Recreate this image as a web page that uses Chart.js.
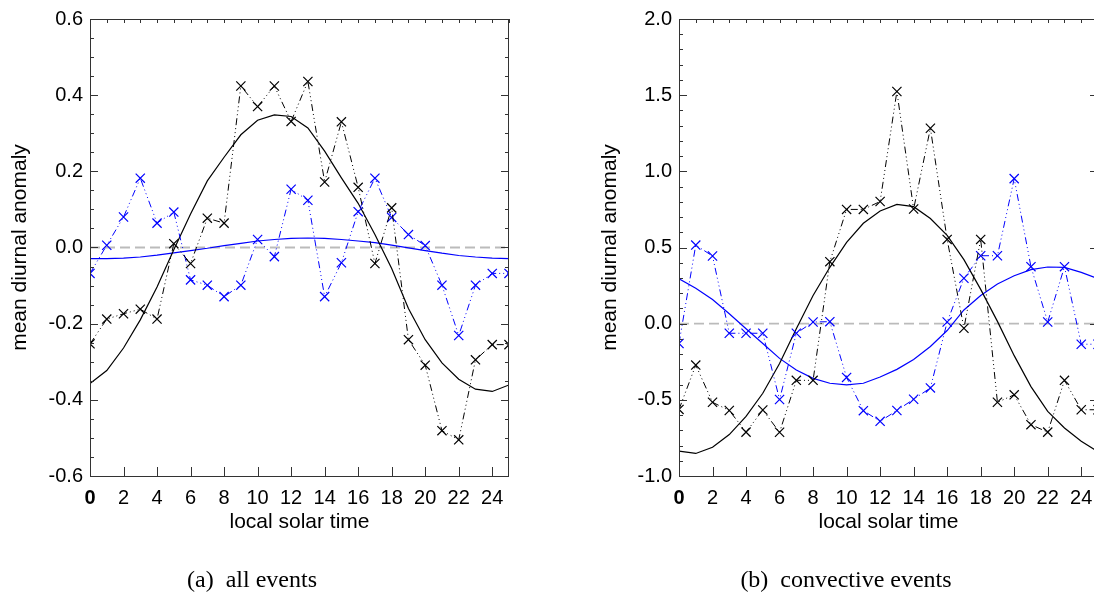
<!DOCTYPE html>
<html>
<head>
<meta charset="utf-8">
<script src="https://cdn.jsdelivr.net/npm/chart.js@4"></script>
<style>
  html, body { margin: 0; padding: 0; background: #fff; overflow: hidden; }
  body { width: 1094px; height: 597px; position: relative; }
  canvas { position: absolute; top: 0; }
  #allChart { left: 0; }
  #convChart { left: 590px; }
</style>
</head>
<body>
<canvas id="allChart" width="547" height="597"></canvas>
<canvas id="convChart" width="560" height="597"></canvas>
<script>
// local solar time (hours)
const hours = [0, 1, 2, 3, 4, 5, 6, 7, 8, 9, 10, 11, 12, 13, 14, 15, 16, 17, 18, 19, 20, 21, 22, 23, 24, 25];
const xTicks = [0, 2, 4, 6, 8, 10, 12, 14, 16, 18, 20, 22, 24];

// (a) all events
const allBlack = [-0.253, -0.188, -0.174, -0.162, -0.188, 0.010, -0.042, 0.077, 0.064, 0.424, 0.370, 0.424, 0.331,
                  0.436, 0.172, 0.330, 0.158, -0.042, 0.104, -0.242, -0.309, -0.481, -0.505, -0.295, -0.255, -0.255];
const allBlue = [-0.068, 0.006, 0.080, 0.182, 0.064, 0.093, -0.085, -0.099, -0.129, -0.099, 0.021, -0.024, 0.153,
                 0.124, -0.129, -0.040, 0.094, 0.182, 0.079, 0.034, 0.005, -0.099, -0.231, -0.099, -0.068, -0.068];
const allBlackFit = [-0.357, -0.323, -0.264, -0.190, -0.104, -0.006, 0.088, 0.175, 0.237, 0.296, 0.334, 0.348, 0.344,
                     0.314, 0.253, 0.183, 0.116, 0.034, -0.055, -0.160, -0.242, -0.303, -0.346, -0.372, -0.378, -0.361];
const allBlueFit = [-0.029, -0.029, -0.028, -0.025, -0.020, -0.014, -0.008, -0.002, 0.005, 0.011, 0.017, 0.021, 0.024,
                    0.025, 0.024, 0.021, 0.017, 0.013, 0.006, -0.001, -0.008, -0.015, -0.021, -0.025, -0.028, -0.029];

// (b) convective events
const convBlack = [-0.563, -0.272, -0.516, -0.570, -0.712, -0.567, -0.713, -0.372, -0.372, 0.407, 0.750, 0.750, 0.802,
                   1.524, 0.753, 1.283, 0.553, -0.030, 0.553, -0.516, -0.467, -0.663, -0.712, -0.372, -0.565, -0.565];
const convBlue = [-0.130, 0.516, 0.444, -0.063, -0.063, -0.063, -0.498, -0.063, 0.011, 0.013, -0.353, -0.571, -0.641,
                  -0.570, -0.496, -0.422, 0.011, 0.298, 0.446, 0.446, 0.952, 0.374, 0.011, 0.374, -0.135, -0.135];
const convBlackFit = [-0.837, -0.852, -0.811, -0.728, -0.609, -0.457, -0.261, -0.033, 0.185, 0.370, 0.533, 0.659, 0.740,
                      0.783, 0.768, 0.690, 0.580, 0.420, 0.225, 0.015, -0.210, -0.413, -0.576, -0.685, -0.772, -0.840];
const convBlueFit = [0.294, 0.233, 0.159, 0.065, -0.033, -0.130, -0.228, -0.304, -0.359, -0.391, -0.402, -0.391, -0.350,
                     -0.300, -0.235, -0.150, -0.045, 0.090, 0.185, 0.261, 0.315, 0.355, 0.372, 0.370, 0.337, 0.296];

const BLUE = '#0000ff';
const dashDotDotDot = [7, 3, 1, 3, 1, 3, 1, 3];

// turn a list of values into {x, y} points on the hour axis
const pts = (vals) => vals.map((v, i) => ({ x: hours[i], y: v }));

// box around the plot with inward ticks on all four sides + sub-figure caption
const framePlugin = {
  id: 'frame',
  afterDraw(chart, args, o) {
    const { ctx, chartArea: a, scales: { x, y } } = chart;
    ctx.save();
    ctx.strokeStyle = '#333';
    ctx.lineWidth = 1;
    ctx.strokeRect(a.left + 0.5, a.top + 0.5, a.right - a.left - 1, a.bottom - a.top);
    ctx.beginPath();
    const nY = Math.round((y.max - y.min) / o.yMinor);
    for (let i = 0; i <= nY; i++) {
      const v = y.min + i * o.yMinor;
      const py = Math.round(y.getPixelForValue(v)) + 0.5;
      const len = (i % o.yPerMajor === 0) ? 8 : 4;
      ctx.moveTo(a.left, py); ctx.lineTo(a.left + len, py);
      ctx.moveTo(a.right, py); ctx.lineTo(a.right - len, py);
    }
    for (let v = x.min; v <= x.max; v += 1) {
      const px = Math.round(x.getPixelForValue(v)) + 0.5;
      if (v % 2 === 0) { ctx.moveTo(px, a.bottom); ctx.lineTo(px, a.bottom - 9); }
      ctx.moveTo(px, a.top); ctx.lineTo(px, a.top + 4);
    }
    ctx.stroke();
    ctx.fillStyle = '#000';
    ctx.font = '24px "Liberation Serif", "Times New Roman", serif';
    ctx.textAlign = 'center';
    ctx.textBaseline = 'middle';
    ctx.fillText(o.caption, o.captionX, 581);
    ctx.restore();
  }
};

function makeChart(id, black, blue, blackFit, blueFit, yMin, yMax, yStep, yMinor, caption, captionX, yWidth, padRight) {
  const ctx = document.getElementById(id).getContext('2d');
  return new Chart(ctx, {
    type: 'line',
    data: {
      datasets: [
        { data: pts(black), borderColor: '#000', borderWidth: 1, borderDash: dashDotDotDot,
          pointStyle: 'crossRot', pointRadius: 6.5, pointBorderWidth: 1.2, pointBorderColor: '#000', tension: 0 },
        { data: pts(blue), borderColor: BLUE, borderWidth: 1, borderDash: dashDotDotDot,
          pointStyle: 'crossRot', pointRadius: 6.5, pointBorderWidth: 1.2, pointBorderColor: BLUE, tension: 0 },
        { data: pts(blackFit), borderColor: '#000', borderWidth: 1.2, pointRadius: 0, tension: 0 },
        { data: pts(blueFit), borderColor: BLUE, borderWidth: 1.2, pointRadius: 0, tension: 0 },
        // zero reference line
        { data: [{ x: 0, y: 0 }, { x: 25, y: 0 }], borderColor: '#bbbbbb', borderWidth: 1.8,
          borderDash: [10, 5], pointRadius: 0 }
      ]
    },
    options: {
      responsive: false,
      devicePixelRatio: 1,
      animation: false,
      events: [],
      layout: { padding: { left: 0, right: padRight, top: 15, bottom: 60 } },
      plugins: {
        legend: { display: false },
        tooltip: { enabled: false },
        frame: { yMinor: yMinor, yPerMajor: Math.round(yStep / yMinor), caption: caption, captionX: captionX }
      },
      scales: {
        x: {
          type: 'linear', min: 0, max: 25,
          afterBuildTicks: (s) => { s.ticks = xTicks.map(v => ({ value: v })); },
          afterFit: (s) => { s.height = 61; },
          grid: { display: false, drawTicks: false },
          border: { display: false },
          ticks: {
            padding: 10, color: '#000', maxRotation: 0, autoSkip: false,
            font: (c) => ({ family: '"Liberation Sans", Arial, sans-serif', size: 20,
                            weight: c.tick && c.tick.value === 0 ? 'bold' : 'normal' }),
            callback: (v) => String(v)
          },
          title: { display: true, text: 'local solar time', color: '#000',
                   font: { family: '"Liberation Sans", Arial, sans-serif', size: 21 }, padding: { top: 0, bottom: 2 } }
        },
        y: {
          min: yMin, max: yMax,
          afterFit: (s) => { s.width = yWidth; },
          grid: { display: false, drawTicks: false },
          border: { display: false },
          ticks: { stepSize: yStep, padding: 7, color: '#000',
                   font: { family: '"Liberation Sans", Arial, sans-serif', size: 20 },
                   callback: (v) => v.toFixed(1) },
          title: { display: true, text: 'mean diurnal anomaly', color: '#000',
                   font: { family: '"Liberation Sans", Arial, sans-serif', size: 21 }, padding: { top: 8, bottom: 0 } }
        }
      }
    },
    plugins: [framePlugin]
  });
}

// (a) all events
makeChart('allChart', allBlack, allBlue, allBlackFit, allBlueFit, -0.6, 0.6, 0.2, 0.05,
          '(a)  all events', 252, 90, 38);

// (b) convective events
makeChart('convChart', convBlack, convBlue, convBlackFit, convBlueFit, -1.0, 2.0, 0.5, 0.1,
          '(b)  convective events', 256, 89, 52);
</script>
</body>
</html>
